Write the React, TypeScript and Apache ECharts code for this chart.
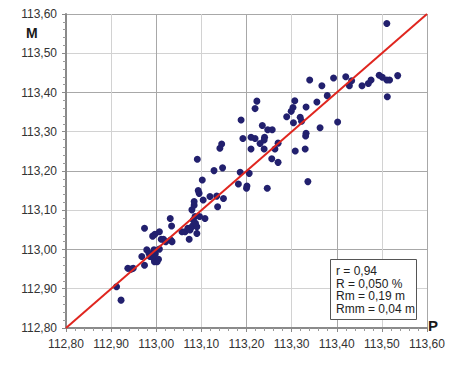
import React, { useEffect, useRef } from "react";
import * as echarts from "echarts";

const pValues = [
  112.912, 112.922, 112.937, 112.944, 112.949, 112.974, 112.968, 112.979, 112.984, 112.990,
  112.986, 112.995, 112.998, 112.994, 112.996, 113.005, 113.002, 113.007, 112.974, 112.992,
  112.997, 113.007, 113.011, 113.016, 113.021, 113.032, 113.035, 113.031, 113.034, 113.057,
  113.064, 113.070, 113.075, 113.079, 113.082, 113.073, 113.090, 113.090, 113.086, 113.096,
  113.108, 113.082, 113.087, 113.079, 113.084, 113.084, 113.095, 113.093, 113.104, 113.119,
  113.134, 113.136, 113.149, 113.091, 113.102, 113.128, 113.147, 113.141, 113.145, 113.182,
  113.201, 113.186, 113.206, 113.246, 113.210, 113.192, 113.210, 113.219, 113.240, 113.239,
  113.230, 113.270, 113.239, 113.263, 113.256, 113.270, 113.188, 113.235, 113.247, 113.257,
  113.223, 113.219, 113.511, 113.340, 113.367, 113.393, 113.420, 113.433, 113.428, 113.456,
  113.470, 113.476, 113.494, 113.501, 113.511, 113.517, 113.535, 113.512, 113.379, 113.356,
  113.402, 113.363, 113.332, 113.307, 113.303, 113.299, 113.289, 113.319, 113.322, 113.304,
  113.332, 113.331, 113.330, 113.308, 113.336, 113.200,
];

const mValues = [
  112.905, 112.871, 112.952, 112.950, 112.952, 112.960, 112.982, 112.999, 112.990, 112.990,
  112.982, 112.999, 112.989, 112.978, 112.969, 112.975, 112.969, 113.001, 113.054, 113.034,
  113.039, 113.045, 113.026, 113.026, 113.020, 113.024, 113.020, 113.079, 113.060, 113.045,
  113.045, 113.054, 113.050, 113.058, 113.062, 113.026, 113.041, 113.058, 113.084, 113.084,
  113.079, 113.075, 113.067, 113.101, 113.113, 113.122, 113.143, 113.150, 113.126, 113.135,
  113.136, 113.109, 113.130, 113.230, 113.177, 113.201, 113.208, 113.258, 113.269, 113.167,
  113.162, 113.197, 113.194, 113.156, 113.256, 113.283, 113.286, 113.283, 113.286, 113.279,
  113.270, 113.271, 113.256, 113.256, 113.231, 113.222, 113.330, 113.316, 113.305, 113.305,
  113.378, 113.359, 113.576, 113.432, 113.417, 113.437, 113.440, 113.430, 113.417, 113.417,
  113.423, 113.432, 113.444, 113.439, 113.432, 113.432, 113.443, 113.389, 113.392, 113.376,
  113.325, 113.310, 113.363, 113.379, 113.362, 113.352, 113.338, 113.337, 113.327, 113.323,
  113.296, 113.289, 113.256, 113.251, 113.173, 113.156,
];

const axisMin = 112.8;
const axisMax = 113.6;
const axisStep = 0.1;
const identityLine = [
  [112.8, 112.8],
  [113.6, 113.6],
];
const statsLines = ["r = 0,94", "R = 0,050 %", "Rm = 0,19 m", "Rmm = 0,04 m"];
const xName = "P";
const yName = "M";

const fmt = (v: number) => v.toFixed(2).replace(".", ",");

export default function App() {
  const ref = useRef<HTMLDivElement>(null);

  useEffect(() => {
    document.body.style.margin = "0";
    if (!ref.current) return;
    const chart = echarts.init(ref.current, undefined, { renderer: "svg" });
    const points = pValues.map((p, i) => [p, mValues[i]]);
    const font = "'Liberation Sans', Arial, sans-serif";

    const axisCommon = {
      type: "value" as const,
      min: axisMin,
      max: axisMax,
      interval: axisStep,
      axisLine: { show: true, lineStyle: { color: "#8a8a8a", width: 2 } },
      axisTick: { show: true, inside: false, length: 4, lineStyle: { color: "#8a8a8a" } },
      minorTick: { show: true, splitNumber: 5, length: 3, lineStyle: { color: "#9a9a9a" } },
      splitLine: { show: true, lineStyle: { color: ["#a8a8a8", "#d2d2d2"], width: 1 } },
      axisLabel: {
        formatter: (v: number) => fmt(v),
        color: "#333333",
        fontFamily: font,
        fontSize: 12,
        showMinLabel: true,
        showMaxLabel: true,
      },
    };

    chart.setOption({
      animation: false,
      backgroundColor: "#ffffff",
      grid: { left: 66, top: 14, right: 23, bottom: 52, containLabel: false },
      xAxis: { ...axisCommon, axisLabel: { ...axisCommon.axisLabel, margin: 10 } },
      yAxis: { ...axisCommon, axisLabel: { ...axisCommon.axisLabel, margin: 9 } },
      series: [
        {
          type: "scatter",
          data: points,
          symbol: "circle",
          symbolSize: 7,
          itemStyle: { color: "#22206e", opacity: 1 },
          z: 3,
        },
        {
          type: "line",
          data: identityLine,
          symbol: "none",
          lineStyle: { color: "#e0261f", width: 2 },
          z: 4,
        },
      ],
      graphic: [
        {
          type: "text",
          left: 26,
          top: 26,
          z: 100,
          style: { text: yName, font: `bold 14px ${font}`, fill: "#1a1a1a" },
        },
        {
          type: "text",
          left: 428,
          top: 318,
          z: 100,
          style: { text: xName, font: `bold 15px ${font}`, fill: "#1a1a1a" },
        },
        {
          type: "rect",
          z: 100,
          shape: { x: 330.5, y: 259.5, width: 86, height: 60 },
          style: { fill: "#ffffff", stroke: "#555555", lineWidth: 1 },
        },
        ...statsLines.map((t, i) => ({
          type: "text",
          z: 101,
          x: 336,
          y: 271 + i * 12.7,
          style: {
            text: t,
            font: `12px ${font}`,
            fill: "#222222",
            verticalAlign: "middle",
            textVerticalAlign: "middle",
          },
        })),
      ],
    });

    return () => chart.dispose();
  }, []);

  return <div ref={ref} style={{ width: 450, height: 380 }} />;
}
